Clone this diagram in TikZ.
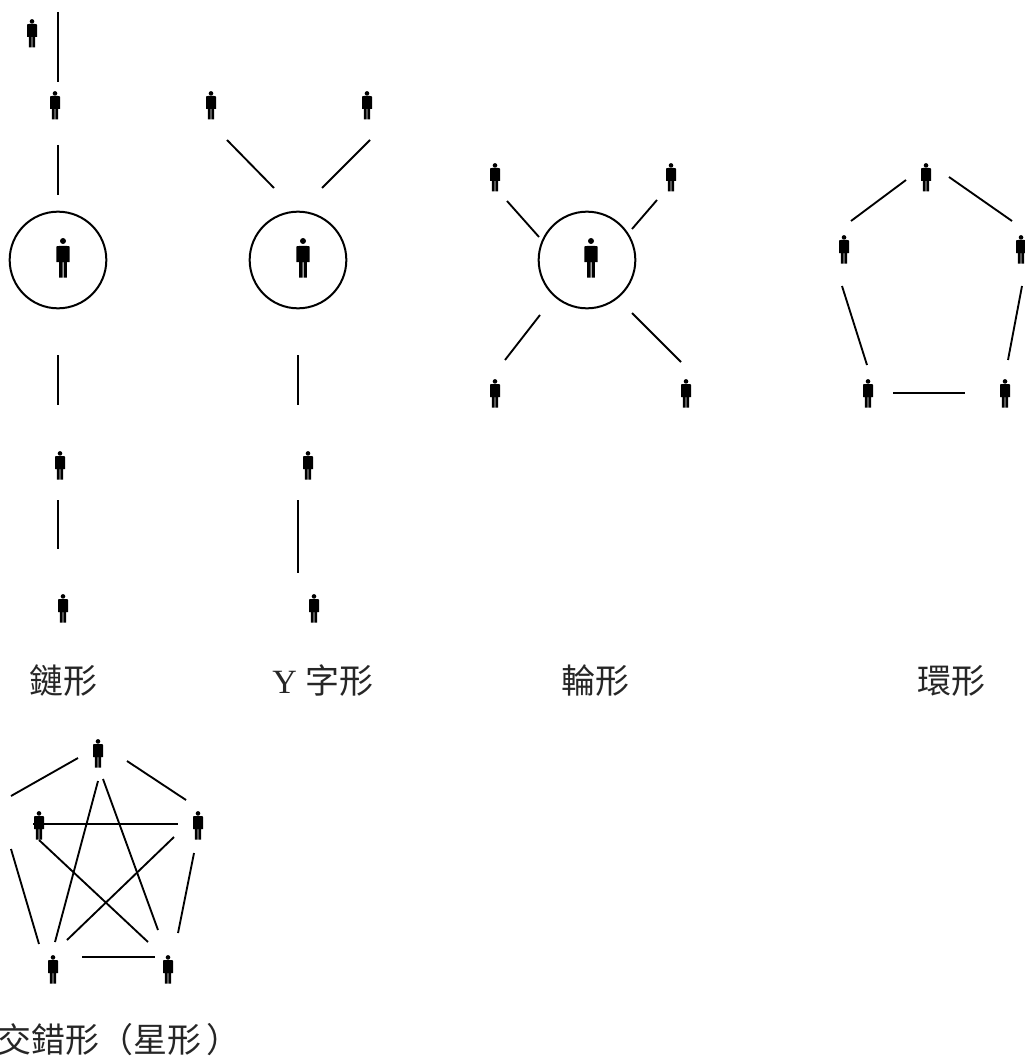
\documentclass[tikz,border=0pt]{standalone}
\usepackage{fontspec}
\setmainfont{Liberation Serif}
\newfontfamily\cjk{Noto Sans CJK TC}
\tikzset{
  x=0.75pt,y=-0.75pt,
  link/.style={draw=black,line width=1.4pt},
  ringc/.style={draw=black,line width=1.5pt},
  caption/.style={anchor=west,inner sep=0pt,font=\fontsize{25.5}{30}\selectfont,text=black!85},
  pics/person/.style={code={
    \fill[black] (0,-11.6) circle (2.3);
    \fill[black] (-5,-8) .. controls (-5,-9) and (-4,-9) .. (-3,-9) -- (3,-9) .. controls (4,-9) and (5,-9) .. (5,-8)
      -- (5,4) -- (3.2,4) -- (3.2,14.5) -- (0.4,14.5) -- (0.4,4) -- (-0.4,4) -- (-0.4,14.5) -- (-3.2,14.5) -- (-3.2,4) -- (-5,4) -- cycle;
  }},
  pics/bigperson/.style={code={
    \fill[black] (0,-16) circle (3);
    \fill[black] (-6.7,-10) .. controls (-6.7,-11) and (-5.5,-11) .. (-4.2,-11) -- (4.2,-11) .. controls (5.5,-11) and (6.7,-11) .. (6.7,-10)
      -- (6.7,5) -- (3.9,5) -- (3.9,20.5) -- (0.5,20.5) -- (0.5,5) -- (-0.5,5) -- (-0.5,20.5) -- (-3.9,20.5) -- (-3.9,5) -- (-6.7,5) -- cycle;
  }}
}
\newcommand{\seg}[5]{\coordinate (#1a) at (#2,#3); \coordinate (#1b) at (#4,#5); \draw[link] (#1a) -- (#1b);}
\begin{document}
\begin{tikzpicture}
\useasboundingbox (0,0) rectangle (1024,1059);
% small persons
\foreach \n/\px/\py in {p1/32/33,p2/55/105,p3/211/105,p4/367/105,p5/495/177,p6/671/177,p7/926/177,p8/844/249,p9/1021/249,p10/495/393,p11/686/393,p12/868/393,p13/1005/393,p14/60/465,p15/308/465,p16/63/608,p17/314/608,p18/98/753,p19/39/825,p20/198/825,p21/53/969,p22/168/969}
  \pic (\n) at (\px,\py) {person};
% circles
\node[ringc,circle,minimum size=72.5pt,inner sep=0pt] (c1) at (58,260) {};
\node[ringc,circle,minimum size=72.5pt,inner sep=0pt] (c2) at (298,260) {};
\node[ringc,circle,minimum size=72.5pt,inner sep=0pt] (c3) at (587,260) {};
\pic (b1) at (63,257) {bigperson};
\pic (b2) at (303,257) {bigperson};
\pic (b3) at (591,257) {bigperson};
% chain
\seg{a1}{58}{12}{58}{82}
\seg{a2}{58}{145}{58}{195}
\seg{a3}{58}{355}{58}{405}
\seg{a4}{58}{500}{58}{549}
% Y
\seg{y1}{227}{140}{274}{188}
\seg{y2}{370}{140}{322}{188}
\seg{y3}{298}{355}{298}{405}
\seg{y4}{298}{500}{298}{573}
% wheel
\seg{w1}{507}{201}{539}{237}
\seg{w2}{657}{200}{632}{229}
\seg{w3}{540}{315}{505}{360}
\seg{w4}{632}{313}{681}{362}
% ring
\seg{r1}{851}{221}{906}{180}
\seg{r2}{949}{177}{1012}{221}
\seg{r3}{842}{286}{867}{365}
\seg{r4}{1022}{286}{1008}{360}
\seg{r5}{893}{393}{965}{393}
% star
\seg{s1}{78}{758}{11}{796}
\seg{s2}{127}{761}{186}{800}
\seg{s3}{98}{781}{55}{942}
\seg{s4}{103}{779}{158}{930}
\seg{s5}{33}{824}{178}{824}
\seg{s6}{39}{840}{148}{942}
\seg{s7}{174}{837}{67}{940}
\seg{s8}{11}{849}{39}{944}
\seg{s9}{194}{853}{178}{933}
\seg{s10}{82}{957}{155}{957}
% captions
\node[caption] (t1) at (29,681) {\cjk 鏈形};
\node[caption] (t2) at (272,681) {Y \cjk 字形};
\node[caption] (t3) at (561,681) {\cjk 輪形};
\node[caption] (t4) at (917,681) {\cjk 環形};
\node[caption] (t5) at (-3,1040) {\cjk 交錯形（星形\hspace{4pt}）};
\end{tikzpicture}
\end{document}
